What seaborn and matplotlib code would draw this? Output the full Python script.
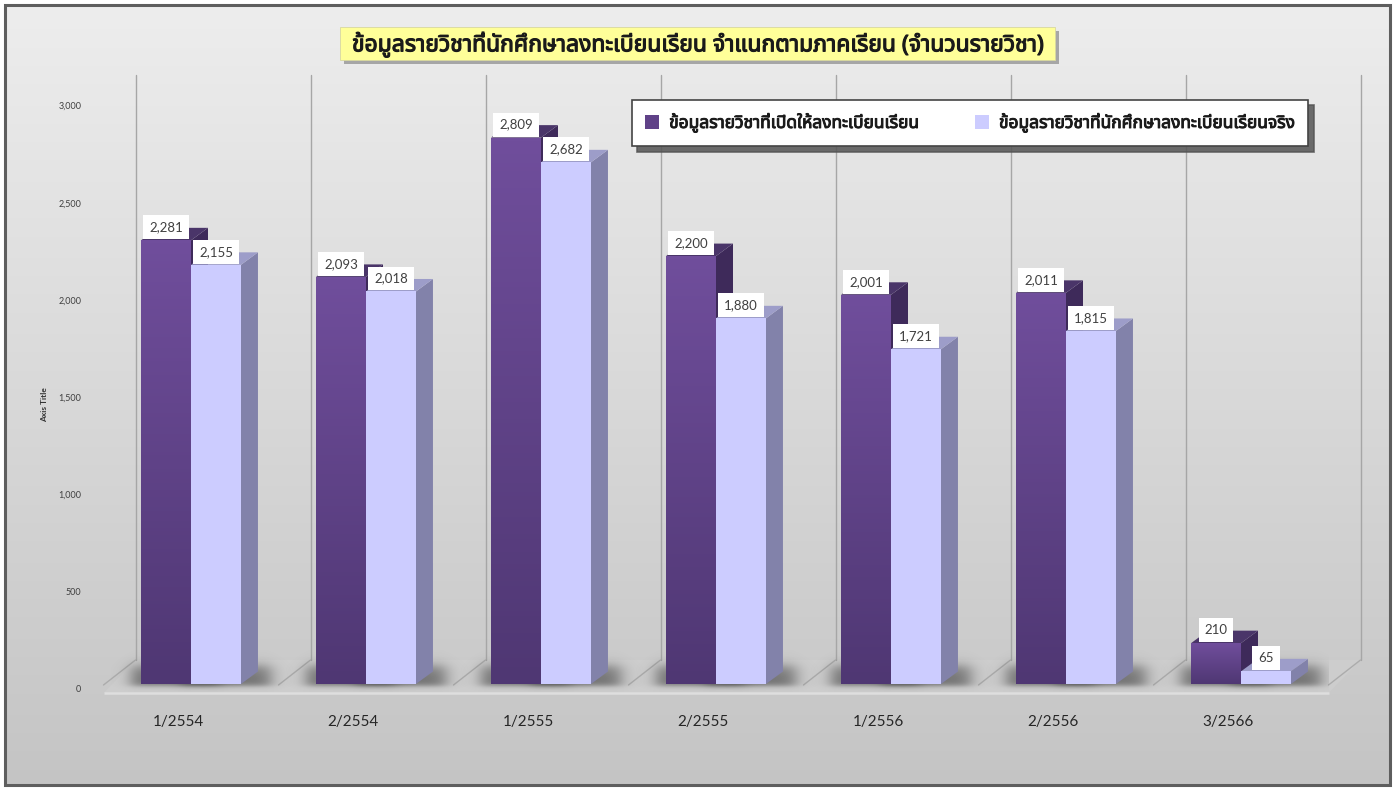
import numpy as np
import pandas as pd
import matplotlib
matplotlib.use("Agg")
import matplotlib.pyplot as plt
import matplotlib.patheffects as pe
import seaborn as sns
from matplotlib import font_manager
from matplotlib.patches import Polygon, Rectangle

# ---------------------------------------------------------------- data
terms = ["1/2554", "2/2554", "1/2555", "2/2555", "1/2556", "2/2556", "3/2566"]
offered = [2281, 2093, 2809, 2200, 2001, 2011, 210]
enrolled = [2155, 2018, 2682, 1880, 1721, 1815, 65]
series_names = ["ข้อมูลรายวิชาที่เปิดให้ลงทะเบียนเรียน",
                "ข้อมูลรายวิชาที่นักศึกษาลงทะเบียนเรียนจริง"]
title = "ข้อมูลรายวิชาที่นักศึกษาลงทะเบียนเรียน จำแนกตามภาคเรียน (จำนวนรายวิชา)"
y_ticks = [0, 500, 1000, 1500, 2000, 2500, 3000]

df = pd.DataFrame({
    "term": terms * 2,
    "value": offered + enrolled,
    "series": [series_names[0]] * len(terms) + [series_names[1]] * len(terms),
})

# ---------------------------------------------------------------- fonts
def thai_family():
    try:
        from fontTools.ttLib import TTFont
    except Exception:
        return None
    found = []
    for fe in font_manager.fontManager.ttflist:
        try:
            f = TTFont(fe.fname, fontNumber=0, lazy=True)
            cmap = f.getBestCmap()
            if cmap and 0x0E02 in cmap:
                found.append(fe.name)
        except Exception:
            pass
    prefs = ["Noto Sans Thai", "Noto Sans Thai UI", "Tahoma", "Leelawadee UI",
             "Loma", "Garuda", "Waree", "Norasi", "Tlwg Typist", "Sawasdee"]
    for p in prefs:
        if p in found:
            return p
    return found[0] if found else None

THAI = thai_family()
NUM_FONT = "Lato"
thai_fams = ([THAI] if THAI else []) + ["DejaVu Sans"]

sns.set_theme(style="white")
plt.rcParams["font.family"] = [NUM_FONT, "DejaVu Sans"]

W, H, DPI = 1395, 788, 100
fig = plt.figure(figsize=(W / DPI, H / DPI), dpi=DPI)
fig.patch.set_facecolor("white")

def fx(px):
    return px / W

def fy(py):
    return 1 - py / H

# ---------------------------------------------------------------- background panel
bg = fig.add_axes([fx(5), fy(785), fx(1390) - fx(5), fy(5) - fy(785)], zorder=-10)
grad = np.linspace(0, 1, 256).reshape(-1, 1)
top_c = np.array([0.93, 0.93, 0.93])
bot_c = np.array([0.77, 0.77, 0.77])
img = top_c * (1 - grad)[..., None] + bot_c * grad[..., None]
bg.imshow(img, aspect="auto", extent=[0, 1, 0, 1], origin="upper")
bg.set_xlim(0, 1)
bg.set_ylim(0, 1)
bg.axis("off")
fig.add_artist(Rectangle((fx(5), fy(785)), fx(1390) - fx(5), fy(5) - fy(785),
                         transform=fig.transFigure, fill=False,
                         edgecolor="#5e5e5e", lw=2.2, zorder=50))

# ---------------------------------------------------------------- main axes
X0, X1 = -0.5, 6.5
Y0, Y1 = -50, 3131
ax_left_px, ax_right_px = 103.5, 1328.5
ax_top_px = 75.0
ax_bot_px = 684 + 50 * 0.1945
ax = fig.add_axes([fx(ax_left_px), fy(ax_bot_px), fx(ax_right_px) - fx(ax_left_px),
                   fy(ax_top_px) - fy(ax_bot_px)])
ax.patch.set_alpha(0)
PX_X = (X1 - X0) / (ax_right_px - ax_left_px)
PX_Y = (Y1 - Y0) / (ax_bot_px - ax_top_px)

purple = "#604288"
lavender = "#ccccff"
sns.barplot(data=df, x="term", y="value", hue="series", hue_order=series_names,
            palette=[purple, lavender], width=0.571, saturation=1, ax=ax,
            legend=True, linewidth=0)
ax.set_xlim(X0, X1)
ax.set_ylim(Y0, Y1)
for s in ax.spines.values():
    s.set_visible(False)
ax.set_xticks([])
ax.set_yticks([])
ax.set_xlabel("")
ax.set_ylabel("")

# floor and back-wall dividers
floor_front = -(693 - 684) * PX_Y
floor_back = (684 - 660) * PX_Y
fdx = 32 * PX_X
ax.add_patch(Polygon([(X0, floor_front), (X1, floor_front), (X1 + fdx, floor_back),
                      (X0 + fdx, floor_back)], closed=True, facecolor="#d2d2d2",
                     edgecolor="none", alpha=0.45, zorder=0.5, clip_on=False))
ax.plot([X0, X1], [floor_front, floor_front], color="#dedede", lw=1.8,
        zorder=0.6, clip_on=False, solid_capstyle="butt")
for i in range(len(terms) + 1):
    xb = X0 + i + fdx
    ax.plot([xb, xb], [floor_back, Y1], color="#a6a6a6", lw=1.0, zorder=0.7, clip_on=False)
    ax.plot([xb, X0 + i], [floor_back, floor_front + 8 * PX_Y], color="#acacac",
            lw=1.0, zorder=0.7, clip_on=False)

# 3-D styling of the bars
dx = 17 * PX_X
dy = 12.5 * PX_Y
side_cols = ["#3e2a5a", "#8282aa"]
top_cols = ["#4a3569", "#9d9dc9"]
zbase = [3, 6]

for k, cont in enumerate(ax.containers):
    for bar in cont:
        x_l = bar.get_x()
        w = bar.get_width()
        h = bar.get_height()
        x_r = x_l + w
        z = zbase[k]
        # soft floor shadow
        sx = np.linspace(x_l - 30 * PX_X, x_r + 55 * PX_X, 140)
        sy = np.linspace(-8 * PX_Y, 34 * PX_Y, 50)
        XX, YY = np.meshgrid(sx, sy)
        ax_fun = (0.5 * (np.tanh((XX - (x_l - 10 * PX_X)) / (9 * PX_X)) + 1)
                  * 0.5 * (1 - np.tanh((XX - (x_r + 30 * PX_X)) / (10 * PX_X))))
        ay_fun = (0.5 * (np.tanh((YY + 2 * PX_Y) / (3 * PX_Y)) + 1)
                  * 0.5 * (1 - np.tanh((YY - 18 * PX_Y) / (7 * PX_Y))))
        alpha = 0.6 * ax_fun * ay_fun
        rgba = np.zeros(alpha.shape + (4,))
        rgba[..., :3] = 0.22
        rgba[..., 3] = alpha
        ax.imshow(rgba, extent=[sx[0], sx[-1], sy[0], sy[-1]], origin="lower",
                  aspect="auto", zorder=1, interpolation="bilinear")
        ax.add_patch(Polygon([(x_r, 0), (x_r + dx, dy), (x_r + dx, h + dy), (x_r, h)],
                             closed=True, facecolor=side_cols[k], edgecolor="none",
                             zorder=z))
        ax.add_patch(Polygon([(x_l, h), (x_r, h), (x_r + dx, h + dy), (x_l + dx, h + dy)],
                             closed=True, facecolor=top_cols[k], edgecolor="none",
                             zorder=z))
        bar.set_zorder(z + 1)
        if k == 0:
            g = np.linspace(0, 1, 128).reshape(-1, 1)
            c_top = np.array([0x70, 0x4e, 0x9c]) / 255
            c_bot = np.array([0x4f, 0x37, 0x73]) / 255
            gimg = c_bot * (1 - g)[..., None] + c_top * g[..., None]
            im = ax.imshow(gimg, extent=[x_l, x_r, 0, h], origin="lower",
                           aspect="auto", zorder=z + 1.5)
            im.set_clip_path(bar)
        ax.annotate(f"{int(h):,}", xy=(x_l + w / 2, h), xytext=(0, 7),
                    textcoords="offset pixels", ha="center", va="bottom",
                    fontsize=9.5, color="#404040", zorder=20,
                    bbox=dict(boxstyle="square,pad=0.45", fc="white", ec="none"))

ax.set_ylim(Y0, Y1)
ax.set_xlim(X0, X1)

# category labels and value scale
for i, t in enumerate(terms):
    ax.annotate(t, xy=(i, 0), xycoords=("data", "axes fraction"), xytext=(-13, -28),
                textcoords="offset pixels", ha="center", va="center",
                fontsize=11, color="#262626")
for v in y_ticks:
    ax.annotate(f"{v:,}", xy=(0, v), xycoords=("axes fraction", "data"),
                xytext=(-22, -6), textcoords="offset pixels", ha="right", va="center",
                fontsize=6.5, color="#404040")
fig.text(fx(45), fy(405), "Axis Title", rotation=90, ha="center", va="center",
         fontsize=6, fontweight="bold", color="#333333")

# legend
bold_fx = [pe.withStroke(linewidth=0.7, foreground="#1a1a1a")]
sns.move_legend(ax, loc="center", bbox_to_anchor=(fx(970), fy(123)),
                bbox_transform=fig.transFigure, ncol=2, title=None, frameon=True,
                shadow={"color": "#555555", "alpha": 0.85, "ox": 4, "oy": -4},
                fancybox=False, borderpad=0.75, columnspacing=3.2,
                handlelength=0.8, handleheight=0.8, handletextpad=0.6,
                prop={"family": thai_fams, "size": 12.5, "weight": "bold"})
leg = ax.get_legend()
leg.get_frame().set_edgecolor("#444444")
leg.get_frame().set_linewidth(1.2)
leg.set_zorder(30)
for txt in leg.get_texts():
    txt.set_color("#1a1a1a")
    txt.set_path_effects(bold_fx)

# title box
tb_l, tb_r, tb_t, tb_b = 340, 1055, 27, 60
fig.add_artist(Rectangle((fx(tb_l + 4), fy(tb_b + 4)), fx(tb_r - tb_l), fy(tb_t) - fy(tb_b),
                         transform=fig.transFigure, facecolor="#7a7a7a",
                         edgecolor="none", alpha=0.6, zorder=40))
fig.add_artist(Rectangle((fx(tb_l), fy(tb_b)), fx(tb_r - tb_l), fy(tb_t) - fy(tb_b),
                         transform=fig.transFigure, facecolor="#ffff99",
                         edgecolor="#d8d8a0", lw=0.6, zorder=41))
fig.text(fx((tb_l + tb_r) / 2), fy((tb_t + tb_b) / 2 + 1), title, ha="center",
         va="center", fontsize=16.5, fontweight="bold", color="#1a1a1a",
         family=thai_fams, zorder=42,
         path_effects=[pe.withStroke(linewidth=0.8, foreground="#1a1a1a")])

fig.savefig("out.png", dpi=DPI)
